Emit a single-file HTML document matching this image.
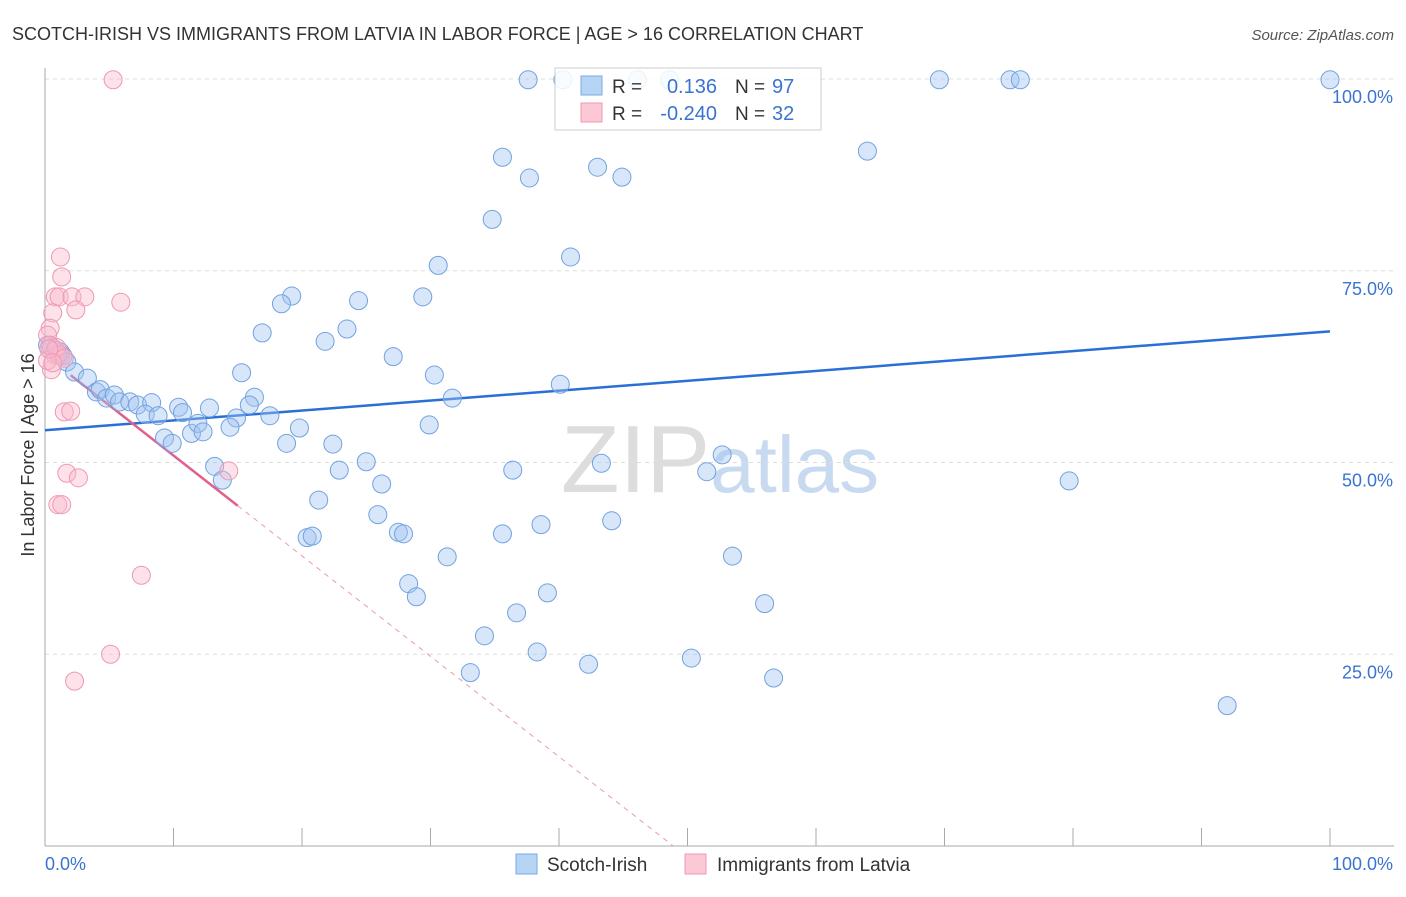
<!DOCTYPE html>
<html><head><meta charset="utf-8">
<style>
body{margin:0;background:#fff;font-family:"Liberation Sans",sans-serif;}
svg text{font-family:"Liberation Sans",sans-serif;}
</style></head>
<body>
<svg id="chart" width="1406" height="892">
<text x="12" y="40" font-size="18" fill="#333">SCOTCH-IRISH VS IMMIGRANTS FROM LATVIA IN LABOR FORCE | AGE &gt; 16 CORRELATION CHART</text>
<text x="1394" y="40" font-size="15" fill="#555" font-style="italic" text-anchor="end">Source: ZipAtlas.com</text>
<text x="720" y="492" font-size="96" fill="#ddd" text-anchor="middle" font-family="Liberation Serif">ZIP<tspan fill="#c8daf0" font-family="Liberation Sans" font-size="80">atlas</tspan></text>
<g id="grid"></g>
<g id="axes"></g>
<g id="trend"></g>
<g id="pts"></g>
<text transform="translate(34,455) rotate(-90)" font-size="18" fill="#333" text-anchor="middle">In Labor Force | Age &gt; 16</text>
<g>
<rect x="555" y="68" width="266" height="62" fill="#fff" fill-opacity="0.85" stroke="#ccc"/>
<rect x="581" y="76" width="21" height="19" fill="#b8d4f5" stroke="#7aaae6"/>
<rect x="581" y="103" width="21" height="19" fill="#fcc8d6" stroke="#ee9ab2"/>
<text x="612" y="93" font-size="19" fill="#333">R =</text>
<text x="717" y="93" font-size="20" fill="#3a74d0" text-anchor="end">0.136</text>
<text x="735" y="93" font-size="19" fill="#333">N =</text>
<text x="772" y="93" font-size="20" fill="#3a74d0">97</text>
<text x="612" y="120" font-size="19" fill="#333">R =</text>
<text x="717" y="120" font-size="20" fill="#3a74d0" text-anchor="end">-0.240</text>
<text x="735" y="120" font-size="19" fill="#333">N =</text>
<text x="772" y="120" font-size="20" fill="#3a74d0">32</text>
</g>
<g>
<rect x="516" y="854" width="21" height="20" fill="#b8d4f5" stroke="#7aaae6"/>
<text x="547" y="871" font-size="19" fill="#333">Scotch-Irish</text>
<rect x="685" y="854" width="21" height="20" fill="#fcc8d6" stroke="#ee9ab2"/>
<text x="717" y="871" font-size="19" fill="#333">Immigrants from Latvia</text>
</g>
</svg>
<script>
const blueX=[37.6,40.3,46.1,48.6,69.6,75.1,75.9,100,35.6,37.7,43.0,44.9,64.0,34.8,40.9,30.6,19.2,18.4,24.4,29.4,16.9,23.5,21.8,27.1,40.1,30.3,31.7,15.3,16.3,15.9,14.9,17.5,19.8,14.4,12.8,18.8,22.4,25.0,29.9,22.9,26.2,21.3,13.2,13.8,43.3,36.4,52.7,51.5,79.7,25.9,20.4,20.8,27.5,27.9,35.6,38.6,44.1,31.3,53.5,28.3,28.9,39.1,36.7,56.0,34.2,38.3,42.3,50.3,33.1,56.7,92.0,0.2,0.8,1.2,1.4,1.7,2.3,3.3,4.0,4.3,4.8,5.4,5.8,6.6,7.2,8.3,7.8,8.8,9.3,9.9,10.4,10.7,11.4,11.9,12.3,0.5,1.0];
const blueY=[99.9,99.9,99.9,99.9,99.9,99.9,99.9,99.9,89.8,87.1,88.5,87.2,90.6,81.7,76.8,75.7,71.7,70.7,71.1,71.6,66.9,67.4,65.8,63.8,60.2,61.4,58.4,61.7,58.5,57.5,55.8,56.1,54.5,54.6,57.1,52.5,52.4,50.1,54.9,49.0,47.2,45.1,49.5,47.7,49.9,49.0,51.0,48.8,47.6,43.2,40.2,40.4,40.9,40.7,40.7,41.9,42.4,37.7,37.8,34.2,32.5,33.0,30.4,31.6,27.4,25.3,23.7,24.5,22.6,21.9,18.3,65.3,64.7,64.4,63.9,63.1,61.8,61.0,59.2,59.5,58.4,58.8,57.9,57.9,57.5,57.8,56.3,56.1,53.2,52.5,57.2,56.5,53.8,55.1,54.0,65.0,64.0];
const pinkX=[5.3,1.2,1.3,0.8,1.1,2.1,3.1,5.9,2.4,0.6,0.4,0.2,0.4,0.8,0.5,1.5,2.0,1.7,2.6,14.3,1.0,1.3,7.5,5.1,2.3,0.8,1.2,0.2,0.9,1.5,0.3,0.6];
const pinkY=[99.9,76.8,74.2,71.6,71.6,71.6,71.6,70.9,69.9,69.5,67.5,66.6,65.3,64.0,62.1,56.6,56.7,48.6,48.0,48.9,44.5,44.5,35.3,25.0,21.5,64.6,64.0,63.3,65.0,63.6,64.8,63.0];
const yTicks=[25,50,75,100];
const blueTrend=[54.2,67.1];
const pinkTrend=[64.0,-1.309];
const X=v=>45+v*12.85, Y=v=>846-v*7.67;
const NS="http://www.w3.org/2000/svg";
function mk(t,a,p){const e=document.createElementNS(NS,t);for(const k in a)e.setAttribute(k,a[k]);p.appendChild(e);return e;}
const grid=document.getElementById('grid'),axes=document.getElementById('axes'),tr=document.getElementById('trend'),pts=document.getElementById('pts');
yTicks.forEach(t=>{
 const l=mk('line',{x1:45,x2:1394,y1:Y(t),y2:Y(t),stroke:'#ddd','stroke-dasharray':'4,4'},grid);
 
 
 const tx=mk('text',{x:1393,y:Y(t)+24,'font-size':18,fill:'#3a74d0','text-anchor':'end'},axes);
 tx.textContent=t.toFixed(1)+'%';
 
 
});
mk('line',{x1:45,x2:45,y1:68,y2:846,stroke:'#aaa'},axes);
mk('line',{x1:45,x2:1394,y1:846,y2:846,stroke:'#aaa'},axes);
for(let i=1;i<=10;i++){mk('line',{x1:X(i*10),x2:X(i*10),y1:828,y2:846,stroke:'#aaa'},axes);}
let t0=mk('text',{x:45,y:870,'font-size':18,fill:'#3a74d0'},axes);t0.textContent='0.0%';


let t1=mk('text',{x:1393,y:870,'font-size':18,fill:'#3a74d0','text-anchor':'end'},axes);t1.textContent='100.0%';


blueX.forEach((x,i)=>{const c=mk('circle',{cx:X(x),cy:Y(blueY[i]),r:9,fill:'rgba(160,196,240,0.42)',stroke:'#72a2e0','stroke-width':1},pts);
 
 });
pinkX.forEach((x,i)=>{const c=mk('circle',{cx:X(x),cy:Y(pinkY[i]),r:9,fill:'rgba(250,185,205,0.42)',stroke:'#ee98b2','stroke-width':1},pts);
 
 });
const bl=mk('line',{x1:X(0),y1:Y(blueTrend[0]),x2:X(100),y2:Y(blueTrend[1]),stroke:'#2a6fd6','stroke-width':2.5},tr);


const pf=x=>pinkTrend[0]+pinkTrend[1]*x;
const pl=mk('line',{x1:X(2),y1:Y(pf(2)),x2:X(15),y2:Y(pf(15)),stroke:'#e0608a','stroke-width':2.5},tr);


const xe=pinkTrend[0]/-pinkTrend[1];
const pd=mk('line',{x1:X(15),y1:Y(pf(15)),x2:X(xe),y2:Y(0),stroke:'#e89ab2','stroke-width':1,'stroke-dasharray':'5,5'},tr);


</script>
</body></html>
